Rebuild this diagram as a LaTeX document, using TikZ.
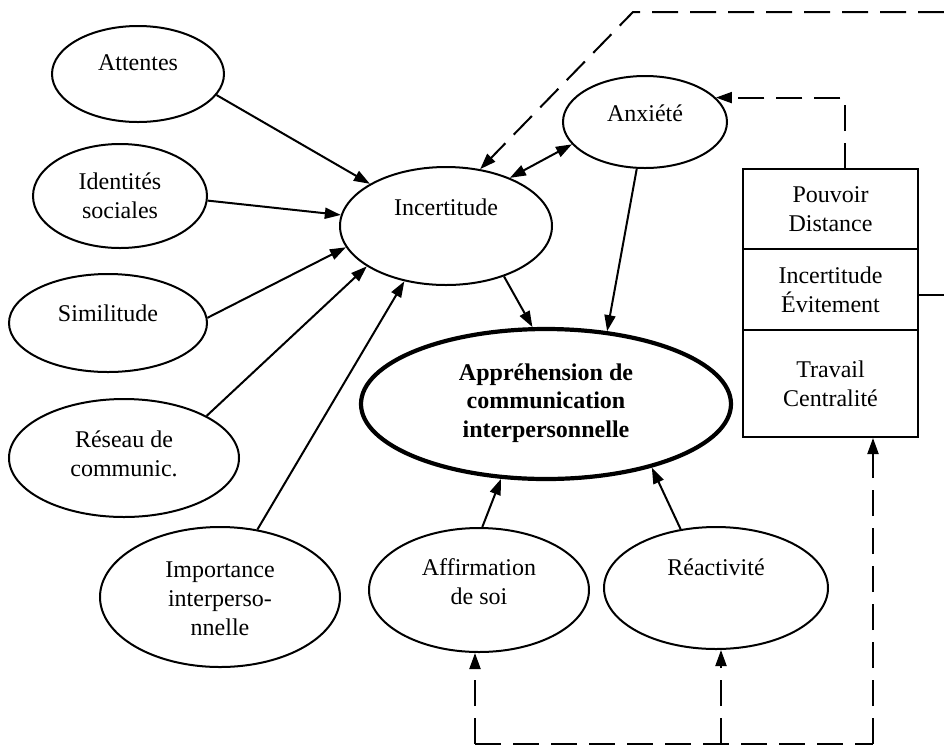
\documentclass[tikz,border=0pt]{standalone}
\usepackage{fontspec}
\setmainfont{Liberation Serif}
\usetikzlibrary{arrows.meta,shapes.geometric}
\begin{document}
\begin{tikzpicture}[x=0.5pt,y=-0.5pt,
  ell/.style={draw,ellipse,line width=1pt,inner sep=0pt},
  bigell/.style={draw,ellipse,line width=2.1pt,inner sep=0pt},
  txt/.style={inner sep=0pt,align=center,font=\fontsize{12}{14.5}\selectfont},
  btxt/.style={txt,font=\fontsize{12}{14.3}\selectfont\bfseries},
  cell/.style={draw,rectangle,line width=1pt,inner sep=0pt,minimum width=87.5pt,align=center,font=\fontsize{12}{14.5}\selectfont},
  arr/.style={line width=1pt,-{Triangle[length=8pt,width=5.5pt]}},
  darr/.style={arr,{Triangle[length=8pt,width=5.5pt]}-{Triangle[length=8pt,width=5.5pt]}},
  dsh/.style={line width=1pt,dash pattern=on 13pt off 6pt},
  dsharr/.style={dsh,-{Triangle[length=8pt,width=5.5pt]}}]
\useasboundingbox (0,0) rectangle (944,746);
\fill[white] (0,0) rectangle (944,746);
% ellipses
\node[ell,minimum width=86pt,minimum height=48pt] (att) at (138,74) {};
\node[txt] (att-t) at (138,63) {Attentes};
\node[ell,minimum width=87pt,minimum height=52pt] (ids) at (120,196) {};
\node[txt] (ids-t) at (120,196) {Identités\\sociales};
\node[ell,minimum width=99pt,minimum height=49pt] (sim) at (108,323) {};
\node[txt] (sim-t) at (108,313) {Similitude};
\node[ell,minimum width=115pt,minimum height=59pt] (res) at (124,458) {};
\node[txt] (res-t) at (124,454) {Réseau de\\communic.};
\node[ell,minimum width=120pt,minimum height=70pt] (imp) at (220,597) {};
\node[txt] (imp-t) at (220,599) {Importance\\interperso-\\nnelle};
\node[ell,minimum width=106pt,minimum height=59pt] (inc) at (446,226) {};
\node[txt] (inc-t) at (446,207) {Incertitude};
\node[ell,minimum width=82pt,minimum height=46pt] (anx) at (645,122) {};
\node[txt] (anx-t) at (645,113) {Anxiété};
\node[bigell,minimum width=185pt,minimum height=75pt] (app) at (546,404) {};
\node[btxt] (app-t) at (546,403) {Appréhension de\\communication\\interpersonnelle};
\node[ell,minimum width=110pt,minimum height=62pt] (aff) at (479,590) {};
\node[txt] (aff-t) at (479,582) {Affirmation\\de soi};
\node[ell,minimum width=112pt,minimum height=61pt] (rea) at (716,588) {};
\node[txt] (rea-t) at (716,567) {Réactivité};
% box
\node[cell,minimum height=40pt] (b1) at (830.5,209) {Pouvoir\\Distance};
\node[cell,minimum height=40.5pt] (b2) at (830.5,289.5) {Incertitude\\Évitement};
\node[cell,minimum height=53.5pt] (b3) at (830.5,383.5) {Travail\\Centralité};
% solid arrows
\draw[arr] (att.-15.4) -- (inc.151.2);
\draw[arr] (ids.-3.6) -- (inc.174.6);
\draw[arr] (sim.3) -- (inc.192.7);
\draw[arr] (res.27.1) -- (inc.207.7);
\draw[arr] (imp.61.2) -- (inc.233.7);
\draw[arr] (inc.-41.8) -- (app.100.3);
\draw[arr] (anx.260) -- (app.50.5);
\draw[darr] (anx.197.5) -- (inc.37.9);
\draw[arr] (aff.87) -- (app.239.3);
\draw[arr] (rea.121) -- (app.-31.3);
% stub
\coordinate (stub) at (944,295);
\draw[line width=1pt] (b2.east |- stub) -- (stub);
% dashed
\coordinate (tr) at (944,12);
\coordinate (tc) at (633,12);
\draw[dsharr] (tr) -- (tc) -- (inc.59.5);
\coordinate (bx) at (845,169);
\draw[dsharr] (bx) |- (anx.19.4);
\coordinate (c1) at (475,744);
\coordinate (c2) at (721,744);
\coordinate (c3) at (873,744);
\draw[dsh] (c1) -- (c3);
\draw[dsharr] (c1) -- (c1 |- aff.south);
\draw[dsharr] (c2) -- (c2 |- rea.south);
\draw[dsharr] (c3) -- (c3 |- b3.south);
\end{tikzpicture}
\end{document}
